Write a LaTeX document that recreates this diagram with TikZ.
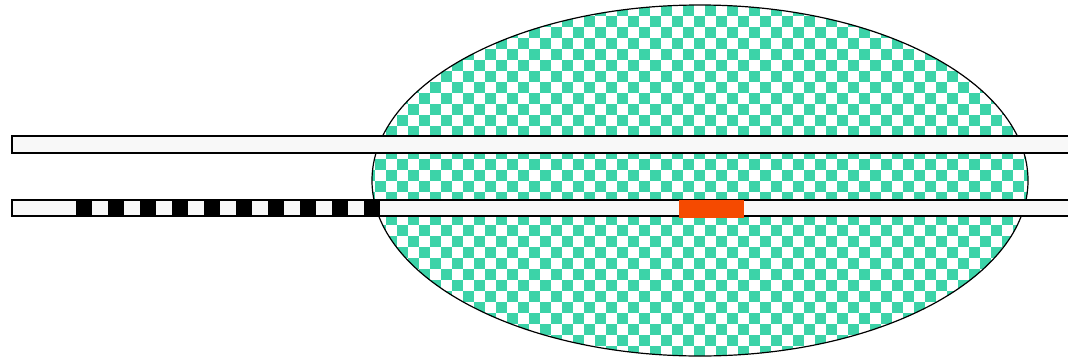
\documentclass[tikz,border=0pt]{standalone}
\definecolor{checkgreen}{RGB}{60,211,168}
\definecolor{plugorange}{RGB}{245,74,0}
\definecolor{barfill}{RGB}{248,248,248}

\begin{document}
\begin{tikzpicture}[x=1pt,y=-1pt,
  bar/.style={draw,line width=1.2pt,fill=barfill},
  band/.style={fill=black},
  plug/.style={fill=plugorange}]
  \useasboundingbox (0,0) rectangle (1068,356);
  \begin{scope}
    \clip (700,180.5) ellipse [x radius=328,y radius=175.5];
    \foreach \i in {33,...,93} {
      \pgfmathtruncatemacro\off{mod(\i,2)}
      \foreach \m in {-1,...,16}
        \fill[checkgreen] (1+11*\i,5+22*\m+11*\off) rectangle ++(11,11);
    }
  \end{scope}
  \draw[line width=1.2pt] (700,180.5) ellipse [x radius=328,y radius=175.5];
  \draw[bar] (12,136) rectangle (1072,153);
  \draw[bar] (12,200) rectangle (1072,216);
  \foreach \k in {0,...,9}
    \fill[band] (76+32*\k,199) rectangle ++(16,18);
  \fill[plug] (679,200) rectangle (744,218);
\end{tikzpicture}
\end{document}
